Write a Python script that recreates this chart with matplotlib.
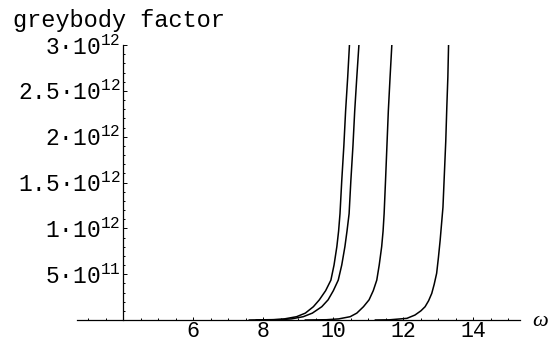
import numpy as np
import matplotlib
matplotlib.use('Agg')
import matplotlib.pyplot as plt
from matplotlib.ticker import FixedLocator

plt.rcParams['font.family'] = 'Liberation Mono'
plt.rcParams['mathtext.fontset'] = 'custom'
plt.rcParams['mathtext.rm'] = 'Liberation Mono'
plt.rcParams['mathtext.it'] = 'Liberation Mono'

# Curves: omega values and greybody factor (units of 1e12)
w1 = [7.6, 8.3, 8.6, 8.95, 9.2, 9.43, 9.6, 9.78, 9.93, 10.02, 10.10, 10.15, 10.19,
      10.24, 10.30, 10.35, 10.41, 10.46]
g1 = [0.0, 0.004, 0.012, 0.036, 0.075, 0.145, 0.22, 0.32, 0.435, 0.60, 0.80, 0.97, 1.16,
      1.52, 1.90, 2.28, 2.65, 3.0]

w2 = [7.8, 8.5, 8.8, 9.14, 9.4, 9.67, 9.85, 10.0, 10.14, 10.24, 10.33, 10.39, 10.45,
      10.50, 10.56, 10.61, 10.67, 10.73]
g2 = [0.0, 0.004, 0.012, 0.036, 0.075, 0.145, 0.22, 0.32, 0.435, 0.60, 0.80, 0.97, 1.16,
      1.52, 1.90, 2.28, 2.65, 3.0]

w3 = [9.2, 9.8, 10.15, 10.48, 10.67, 10.86, 11.02, 11.14, 11.24, 11.31, 11.38, 11.42, 11.45,
      11.49, 11.53, 11.57, 11.62, 11.67]
g3 = [0.0, 0.003, 0.012, 0.036, 0.075, 0.145, 0.22, 0.32, 0.435, 0.60, 0.80, 0.97, 1.16,
      1.52, 1.90, 2.28, 2.65, 3.0]

w4 = [11.2, 11.6, 12.10, 12.33, 12.5, 12.62, 12.72, 12.81, 12.88, 12.95, 13.0, 13.05,
      13.09, 13.13, 13.17, 13.21, 13.24, 13.27, 13.29]
g4 = [0.0, 0.002, 0.018, 0.054, 0.10, 0.145, 0.21, 0.29, 0.39, 0.51, 0.68, 0.87,
      1.05, 1.23, 1.59, 1.95, 2.32, 2.65, 3.0]

xmajor = [6, 8, 10, 12, 14]
ymajor = [0.5e12, 1e12, 1.5e12, 2e12, 2.5e12, 3e12]
ylabels = [r'$\mathrm{5·10}^{11}$', r'$\mathrm{1·10}^{12}$', r'$\mathrm{1.5·10}^{12}$',
           r'$\mathrm{2·10}^{12}$', r'$\mathrm{2.5·10}^{12}$', r'$\mathrm{3·10}^{12}$']

fig = plt.figure(figsize=(5.48, 3.41), dpi=100)
ax = fig.add_axes([77/548, 21/341, 443/548, 275/341])

for w, g in ((w1, g1), (w2, g2), (w3, g3), (w4, g4)):
  ax.plot(w, np.array(g)*1e12, color='black', lw=1.1)

ax.set_xlim(2.68, 15.33)
ax.set_ylim(0, 3.0e12)

ax.spines['left'].set_position(('data', 4))
ax.spines['bottom'].set_position(('data', 0))
ax.spines['top'].set_visible(False)
ax.spines['right'].set_visible(False)
for s in ('left', 'bottom'):
  ax.spines[s].set_linewidth(0.9)

ax.xaxis.set_major_locator(FixedLocator(xmajor))
ax.xaxis.set_minor_locator(FixedLocator(np.arange(3, 15.01, 0.5)))
ax.yaxis.set_major_locator(FixedLocator(ymajor))
ax.yaxis.set_minor_locator(FixedLocator(np.arange(1e11, 3.01e12, 1e11)))
ax.set_xticklabels([str(v) for v in xmajor])
ax.set_yticklabels(ylabels)
ax.tick_params(which='both', direction='in', width=0.7)
ax.tick_params(axis='x', which='major', length=2.5, pad=0.5, labelsize=15.5)
ax.tick_params(axis='x', which='minor', length=1.3)
ax.tick_params(axis='y', which='major', length=3, pad=2, labelsize=16.5)
ax.tick_params(axis='y', which='minor', length=1.5)

fig.text(13/548, 1 - 27/341, 'greybody factor', fontsize=17, va='baseline', ha='left')
fig.text(532/548, 1 - 322/341, 'ω', fontsize=16, family='Liberation Serif',
         style='italic', va='center', ha='left')

fig.savefig('out.png', dpi=100)
